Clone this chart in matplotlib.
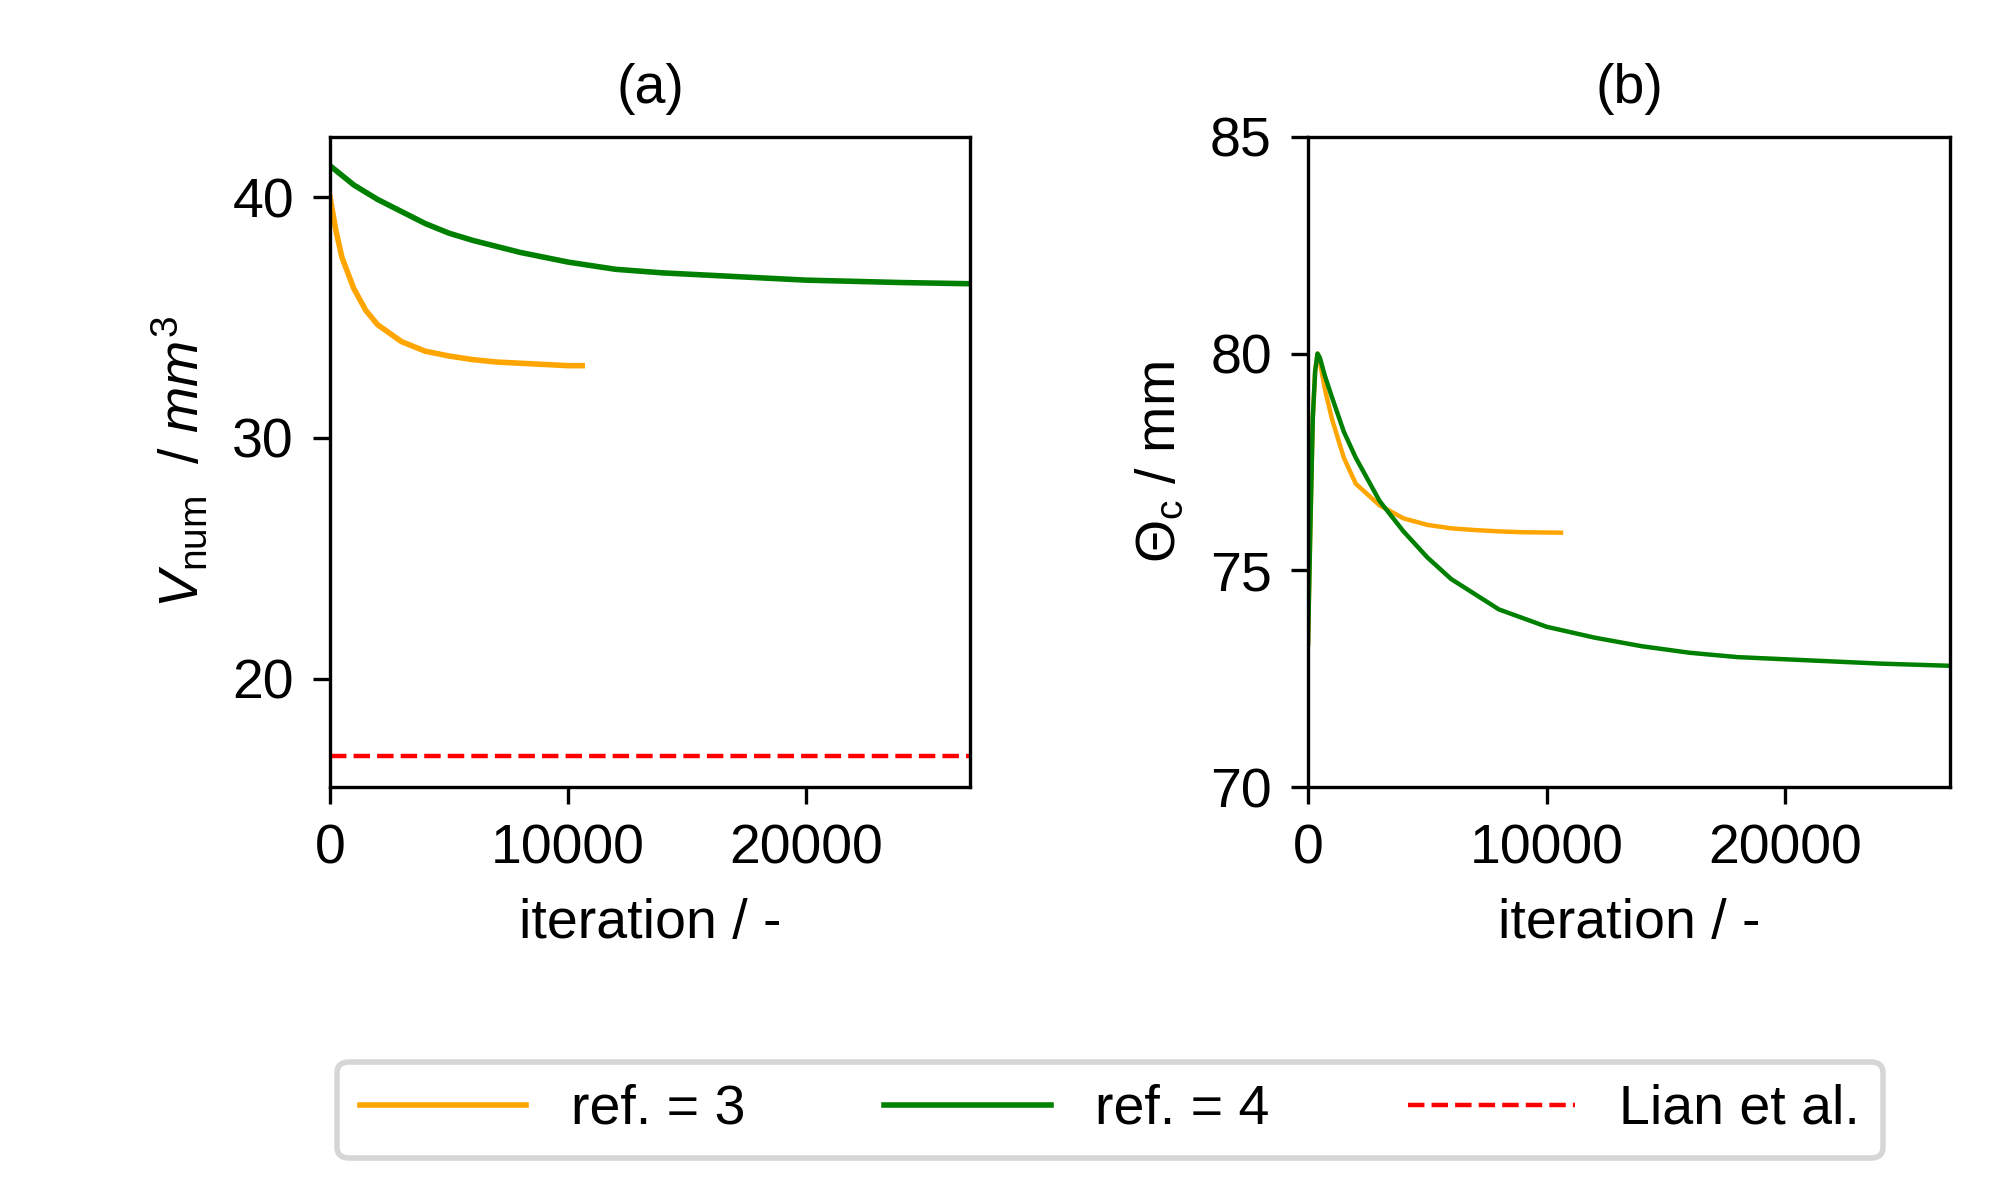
import matplotlib
matplotlib.use("Agg")
import matplotlib.pyplot as plt

# (a) volume
a_ref3_x = [0, 250, 500, 1000, 1500, 2000, 3000, 4000, 5000, 6000, 7000, 8000, 9000, 10000, 10600]
a_ref3_y = [40.0, 38.6, 37.5, 36.2, 35.3, 34.7, 34.0, 33.6, 33.4, 33.25, 33.15, 33.1, 33.05, 33.0, 33.0]
a_ref4_x = [0, 1000, 2000, 3000, 4000, 5000, 6000, 8000, 10000, 12000, 14000, 16000, 18000, 20000, 22000, 24000, 26900]
a_ref4_y = [41.3, 40.5, 39.9, 39.4, 38.9, 38.5, 38.2, 37.7, 37.3, 37.0, 36.85, 36.75, 36.65, 36.55, 36.5, 36.45, 36.4]
lian_v = 16.8

# (b) contact angle
b_ref4_x = [0, 100, 200, 300, 400, 500, 700, 1000, 1500, 2000, 3000, 4000, 5000, 6000, 8000, 10000,
            12000, 14000, 16000, 18000, 20000, 22000, 24000, 26900]
b_ref4_y = [73.3, 76.0, 78.5, 79.6, 80.0, 79.9, 79.5, 79.0, 78.2, 77.6, 76.6, 75.9, 75.3, 74.8, 74.1, 73.7,
            73.45, 73.25, 73.1, 73.0, 72.95, 72.9, 72.85, 72.8]
b_ref3_x = [0, 100, 200, 300, 400, 500, 700, 1000, 1500, 2000, 3000, 4000, 5000, 6000, 7000, 8000, 9000, 10600]
b_ref3_y = [73.3, 76.0, 78.5, 79.6, 80.0, 79.8, 79.2, 78.5, 77.6, 77.0, 76.5, 76.2, 76.05, 75.97, 75.93, 75.9, 75.88, 75.87]

plt.rcParams["font.family"] = ["Liberation Sans", "DejaVu Sans"]
plt.rcParams["mathtext.fontset"] = "custom"
plt.rcParams["mathtext.rm"] = "Liberation Sans"
plt.rcParams["mathtext.it"] = "Liberation Sans:italic"
fs = 10

fig = plt.figure(figsize=(5, 3), dpi=400)
ax1 = fig.add_axes([0.165, 0.344, 0.32, 0.542])
ax2 = fig.add_axes([0.654, 0.344, 0.321, 0.542])

l3, = ax1.plot(a_ref3_x, a_ref3_y, color="orange", lw=1, label="ref. = 3")
l4, = ax1.plot(a_ref4_x, a_ref4_y, color="green", lw=1, label="ref. = 4")
ll = ax1.axhline(lian_v, color="red", ls="--", lw=0.8, label="Lian et al.")
ax1.set_xlim(0, 26900)
ax1.set_ylim(15.5, 42.5)
ax1.set_yticks([20, 30, 40])
ax1.set_title("(a)", fontsize=fs)
ax1.set_xlabel("iteration / -", fontsize=fs)
ax1.set_ylabel(r"$V_{\rm num}$  / $mm^3$", fontsize=fs)

ax2.plot(b_ref3_x, b_ref3_y, color="orange", lw=0.8)
ax2.plot(b_ref4_x, b_ref4_y, color="green", lw=0.8)
ax2.set_xlim(0, 26900)
ax2.set_ylim(70, 85)
ax2.set_yticks([70, 75, 80, 85])
ax2.set_title("(b)", fontsize=fs)
ax2.set_xlabel("iteration / -", fontsize=fs)
ax2.set_ylabel(r"$\Theta_{\rm c}$ / mm", fontsize=fs)

for ax in (ax1, ax2):
    ax.set_xticks([0, 10000, 20000])
    ax.tick_params(labelsize=fs, width=0.6, length=3)
    for s in ax.spines.values():
        s.set_linewidth(0.6)

fig.legend(handles=[l3, l4, ll], loc="center", bbox_to_anchor=(0.555, 0.075), ncol=3,
           fontsize=fs, handlelength=3, columnspacing=2.5)

fig.savefig("out.png", dpi=400)
